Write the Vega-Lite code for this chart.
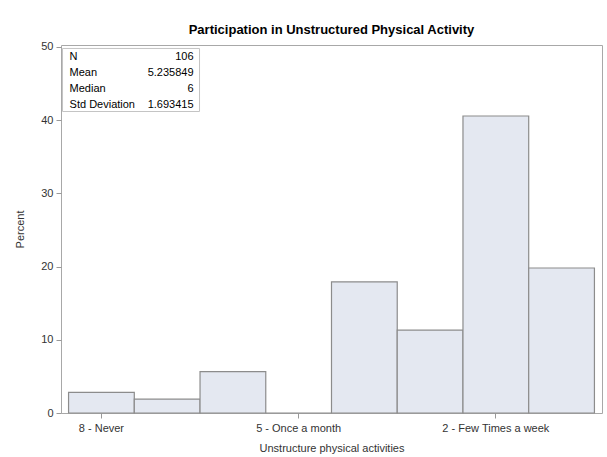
{
  "$schema": "https://vega.github.io/schema/vega-lite/v6.json",
  "width": 541,
  "height": 368,
  "autosize": {"type": "none"},
  "padding": {"left": 61, "top": 45, "right": 5, "bottom": 44},
  "background": "white",
  "title": {
    "text": "Participation in Unstructured Physical Activity",
    "font": "Liberation Sans",
    "fontSize": 13,
    "fontWeight": "bold",
    "color": "#000000",
    "anchor": "middle",
    "offset": 4
  },
  "config": {
    "view": {"stroke": "#a8a8a8", "strokeWidth": 1},
    "axis": {
      "labelFont": "Liberation Sans",
      "titleFont": "Liberation Sans",
      "labelFontSize": 11,
      "titleFontSize": 11,
      "titleFontWeight": "normal",
      "labelColor": "#333333",
      "titleColor": "#333333",
      "tickColor": "#999999",
      "domain": false,
      "grid": false
    }
  },
  "layer": [
    {
      "data": {
        "values": [
          {"category": "8 - Never", "percent": 2.83},
          {"category": "7", "percent": 1.89},
          {"category": "6", "percent": 5.66},
          {"category": "5 - Once a month", "percent": 0},
          {"category": "4", "percent": 17.92},
          {"category": "3", "percent": 11.32},
          {"category": "2 - Few Times a week", "percent": 40.57},
          {"category": "1", "percent": 19.81}
        ]
      },
      "mark": {"type": "bar", "fill": "#e4e8f1", "stroke": "#8c8c8c", "strokeWidth": 1.2},
      "encoding": {
        "x": {
          "field": "category",
          "type": "nominal",
          "sort": null,
          "scale": {"paddingInner": 0, "paddingOuter": 0.115},
          "axis": {
            "values": ["8 - Never", "5 - Once a month", "2 - Few Times a week"],
            "labelAngle": 0,
            "title": "Unstructure physical activities",
            "tickSize": 5,
            "labelPadding": 4,
            "titlePadding": 9
          }
        },
        "y": {
          "field": "percent",
          "type": "quantitative",
          "scale": {"domain": [0, 50.27], "nice": false},
          "axis": {
            "values": [0, 10, 20, 30, 40, 50],
            "title": "Percent",
            "tickSize": 5,
            "labelPadding": 3,
            "titlePadding": 15
          }
        }
      }
    },
    {
      "data": {"values": [{}]},
      "mark": {
        "type": "point",
        "shape": "M-1,-0.46H1V0.46H-1Z",
        "size": 18769,
        "filled": false,
        "stroke": "#c4c4c4",
        "strokeWidth": 1,
        "opacity": 1,
        "xOffset": 29.6,
        "yOffset": 33
      },
      "encoding": {
        "x": {"datum": "8 - Never", "bandPosition": 0.5},
        "y": {"datum": 50}
      }
    },
    {
      "data": {"values": [{}]},
      "mark": {
        "type": "text",
        "text": ["N", "Mean", "Median", "Std Deviation"],
        "align": "left",
        "baseline": "top",
        "lineHeight": 15.9,
        "font": "Liberation Sans",
        "fontSize": 11,
        "color": "#000000",
        "dx": 1,
        "dy": 4
      },
      "encoding": {
        "x": {"datum": "8 - Never", "bandPosition": 0},
        "y": {"datum": 50}
      }
    },
    {
      "data": {"values": [{}]},
      "mark": {
        "type": "text",
        "text": ["106", "5.235849", "6", "1.693415"],
        "align": "right",
        "baseline": "top",
        "lineHeight": 15.9,
        "font": "Liberation Sans",
        "fontSize": 11,
        "color": "#000000",
        "dx": -6.5,
        "dy": 4
      },
      "encoding": {
        "x": {"datum": "6", "bandPosition": 0},
        "y": {"datum": 50}
      }
    }
  ]
}
